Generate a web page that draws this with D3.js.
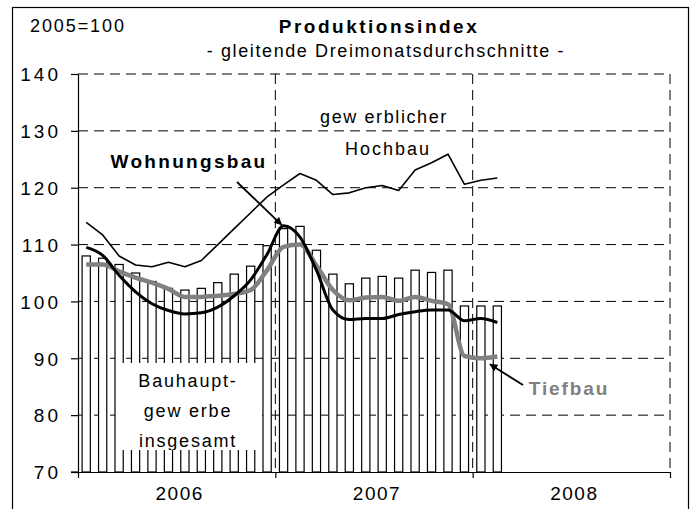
<!DOCTYPE html>
<html>
<head>
<meta charset="utf-8">
<script src="https://cdn.jsdelivr.net/npm/d3@7"></script>
<style>
  body { margin: 0; background: #fff; }
  text { font-family: "Liberation Sans", Arial, sans-serif; fill: #000; }
</style>
</head>
<body>
<div id="chart"></div>
<script>
//data: monthly values Jan 2006 - Feb 2008
const years = ["2006", "2007", "2008"];
const months = ["2006-01","2006-02","2006-03","2006-04","2006-05","2006-06","2006-07","2006-08","2006-09","2006-10","2006-11","2006-12",
      "2007-01","2007-02","2007-03","2007-04","2007-05","2007-06","2007-07","2007-08","2007-09","2007-10","2007-11","2007-12",
      "2008-01","2008-02"];
// Bauhauptgewerbe insgesamt (bars)
const bauhaupt = [108.0, 107.6, 106.5, 105.0, 103.5, 102.3, 102.0, 102.3, 103.3, 104.8, 106.2, 109.8,
      112.8, 113.2, 109.0, 104.8, 103.1, 104.1, 104.4, 104.1, 105.5, 105.1, 105.5, 99.2, 99.2, 99.2];
// gewerblicher Hochbau
const hochbau = [113.9, 111.7, 108.0, 106.4, 106.1, 106.9, 106.1, 107.2, 110.0, 112.8, 115.6, 118.4,
      120.5, 122.5, 121.3, 118.8, 119.1, 120.0, 120.4, 119.5, 123.1, 124.4, 125.9, 120.6, 121.3, 121.7];
// Wohnungsbau
const wohnungsbau = [109.5, 108.1, 104.6, 101.7, 99.6, 98.4, 97.8, 98.0, 99.0, 101.0, 103.8, 108.3,
      113.3, 111.3, 105.5, 98.5, 96.8, 97.0, 97.0, 97.7, 98.2, 98.5, 98.5, 96.6, 97.0, 96.3];
// Tiefbau
const tiefbau = [106.5, 106.5, 105.3, 104.2, 103.3, 102.2, 100.8, 100.8, 101.0, 101.3, 102.0, 105.5,
      109.6, 110.0, 106.3, 102.0, 100.2, 100.7, 100.8, 100.1, 100.8, 100.1, 99.5, 90.4, 90.0, 90.3];
const yTicks = [70, 80, 90, 100, 110, 120, 130, 140];

const w = 696;
const h = 509;
const mLeft = 78, mRight = 670, mTop = 74, mBottom = 472;

// all 36 month slots of the three years
const allMonths = [];
years.forEach(yr => d3.range(1, 13).forEach(m => allMonths.push(`${yr}-${String(m).padStart(2, "0")}`)));

const x = d3.scaleBand().domain(allMonths).range([mLeft, mRight]).paddingInner(0.5).paddingOuter(0.25);
const xLin = d3.scaleLinear().domain([0, allMonths.length]).range([mLeft, mRight]);
const y = d3.scaleLinear().domain([70, 140]).range([mBottom, mTop]);
const cx = (m) => x(m) + x.bandwidth() / 2;

const svg = d3.select("#chart")
      .append("svg")
      .attr("width", w)
      .attr("height", h);

// outer frame
svg.append("rect")
      .attr("x", 12.5).attr("y", 7.5)
      .attr("width", 676).attr("height", 520)
      .attr("fill", "none").attr("stroke", "#000").attr("stroke-width", 1.2);

const defs = svg.append("defs");
defs.append("marker")
      .attr("id", "arrow")
      .attr("viewBox", "0 0 10 10")
      .attr("refX", 9).attr("refY", 5)
      .attr("markerWidth", 4.5).attr("markerHeight", 4.5)
      .attr("orient", "auto")
      .append("path")
      .attr("d", "M0,0 L10,5 L0,10 z")
      .attr("fill", "#000");

//horizontal dashed gridlines
svg.append("g").selectAll("line")
      .data(yTicks.filter(d => d > 70))
      .enter()
      .append("line")
      .attr("x1", mLeft).attr("x2", mRight)
      .attr("y1", d => y(d)).attr("y2", d => y(d))
      .attr("stroke", "#000").attr("stroke-width", 1)
      .attr("stroke-dasharray", "10,6");

//bars
svg.append("g").selectAll("rect")
      .data(months.map((m, i) => ({ m, v: bauhaupt[i] })))
      .enter()
      .append("rect")
      .attr("x", d => x(d.m))
      .attr("y", d => y(d.v))
      .attr("width", x.bandwidth())
      .attr("height", d => y(70) - y(d.v))
      .attr("fill", "#fff")
      .attr("stroke", "#000")
      .attr("stroke-width", 1.2);

//vertical dashed year lines
svg.append("g").selectAll("line")
      .data([12, 24, 36])
      .enter()
      .append("line")
      .attr("x1", d => xLin(d)).attr("x2", d => xLin(d))
      .attr("y1", mTop).attr("y2", mBottom)
      .attr("stroke", "#000").attr("stroke-width", 1)
      .attr("stroke-dasharray", "10,6");

//lines
const series = [
      { values: hochbau, color: "#000", width: 1.6, curve: d3.curveLinear },
      { values: tiefbau, color: "#808080", width: 4.5, curve: d3.curveMonotoneX },
      { values: wohnungsbau, color: "#000", width: 3, curve: d3.curveMonotoneX }
];
series.forEach(s => {
      const line = d3.line()
            .x((d, i) => cx(months[i]))
            .y(d => y(d))
            .curve(s.curve);
      svg.append("path")
            .datum(s.values)
            .attr("d", line)
            .attr("fill", "none")
            .attr("stroke", s.color)
            .attr("stroke-width", s.width)
            .attr("stroke-linejoin", "round");
});

//white label box over the bars
svg.append("rect")
      .attr("x", 116).attr("y", 363)
      .attr("width", 146).attr("height", 87)
      .attr("fill", "#fff");
const boxText = svg.append("g");
boxText.append("clipPath").attr("id", "boxclip")
      .append("rect").attr("x", 116).attr("y", 363).attr("width", 146).attr("height", 87);
boxText.selectAll("text")
      .data(["Bauhaupt-", "gew erbe", "insgesamt"])
      .enter()
      .append("text")
      .attr("x", 188)
      .attr("y", (d, i) => 387 + i * 30)
      .attr("text-anchor", "middle")
      .attr("clip-path", "url(#boxclip)")
      .style("font-size", "18px")
      .style("letter-spacing", "1.8px")
      .text(d => d);

//axes
const yAxis = svg.append("g")
      .attr("transform", `translate(${mLeft},0)`)
      .call(d3.axisLeft(y).tickValues(yTicks).tickSize(7).tickPadding(10).tickSizeOuter(0));
yAxis.select(".domain").attr("stroke", "#000").attr("stroke-width", 1.2);
yAxis.selectAll(".tick line").attr("stroke-width", 1.2);
yAxis.selectAll("text")
      .attr("dy", "0.36em")
      .style("font-size", "19px")
      .style("letter-spacing", "3px")
      .style("font-family", "'Liberation Sans', Arial, sans-serif");

const xAxis = svg.append("g")
      .attr("transform", `translate(0,${mBottom})`)
      .call(d3.axisBottom(xLin).tickValues([0, 12, 24, 36]).tickSize(6).tickFormat("").tickSizeOuter(0));
xAxis.select(".domain").attr("stroke", "#000").attr("stroke-width", 1.2);
xAxis.selectAll(".tick line").attr("stroke-width", 1.2);
svg.append("line")
      .attr("x1", 71).attr("x2", mLeft).attr("y1", mBottom).attr("y2", mBottom)
      .attr("stroke", "#000").attr("stroke-width", 1.2);

svg.append("g").selectAll("text")
      .data(years)
      .enter()
      .append("text")
      .attr("x", (d, i) => xLin(i * 12 + 6) + 3)
      .attr("y", 500)
      .attr("text-anchor", "middle")
      .style("font-size", "19px")
      .style("letter-spacing", "1.5px")
      .text(d => d);

//titles
svg.append("text")
      .attr("x", 30).attr("y", 32)
      .style("font-size", "18px")
      .style("letter-spacing", "1.9px")
      .text("2005=100");
svg.append("text")
      .attr("x", 379).attr("y", 33)
      .attr("text-anchor", "middle")
      .style("font-size", "19px")
      .style("font-weight", "bold")
      .style("letter-spacing", "2.5px")
      .text("Produktionsindex");
svg.append("text")
      .attr("x", 386).attr("y", 57)
      .attr("text-anchor", "middle")
      .style("font-size", "18px")
      .style("letter-spacing", "1.6px")
      .text("- gleitende Dreimonatsdurchschnitte -");

//annotations
svg.append("text")
      .attr("x", 189).attr("y", 168)
      .attr("text-anchor", "middle")
      .style("font-size", "19px")
      .style("font-weight", "bold")
      .style("letter-spacing", "2.3px")
      .text("Wohnungsbau");
svg.append("line")
      .attr("x1", 237).attr("y1", 182)
      .attr("x2", cx(months[12]) - 2).attr("y2", y(wohnungsbau[12]) - 1)
      .attr("stroke", "#000").attr("stroke-width", 1.8)
      .attr("marker-end", "url(#arrow)");

svg.append("text")
      .attr("x", 384).attr("y", 123)
      .attr("text-anchor", "middle")
      .style("font-size", "18px")
      .style("letter-spacing", "1.6px")
      .text("gew erblicher");
svg.append("text")
      .attr("x", 388).attr("y", 155)
      .attr("text-anchor", "middle")
      .style("font-size", "18px")
      .style("letter-spacing", "2px")
      .text("Hochbau");

svg.append("text")
      .attr("x", 569).attr("y", 395)
      .attr("text-anchor", "middle")
      .style("font-size", "19px")
      .style("font-weight", "bold")
      .style("letter-spacing", "1.9px")
      .style("fill", "#808080")
      .text("Tiefbau");
svg.append("line")
      .attr("x1", 523).attr("y1", 385)
      .attr("x2", 490).attr("y2", y(tiefbau[24]) + 6)
      .attr("stroke", "#000").attr("stroke-width", 1.8)
      .attr("marker-end", "url(#arrow)");
</script>
</body>
</html>
